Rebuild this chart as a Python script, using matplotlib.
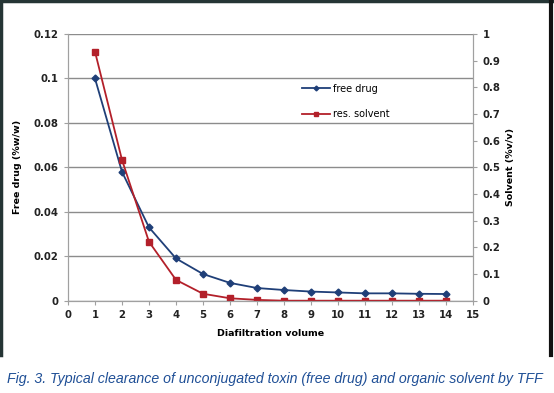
import matplotlib.pyplot as plt
from matplotlib.lines import Line2D

# diafiltration volumes and the two measured series
volume = [1, 2, 3, 4, 5, 6, 7, 8, 9, 10, 11, 12, 13, 14]
free_drug = [0.100, 0.058, 0.033, 0.019, 0.012, 0.008, 0.0057, 0.0048, 0.0041,
             0.0037, 0.0033, 0.0033, 0.0031, 0.0030]
res_solvent = [0.934, 0.528, 0.221, 0.078, 0.026, 0.009, 0.003, 0.0, 0.0,
               0.0, 0.0, 0.0, 0.0, 0.0]

left_ticks = [0, 0.02, 0.04, 0.06, 0.08, 0.1, 0.12]
left_labels = ['0', '0.02', '0.04', '0.06', '0.08', '0.1', '0.12']
right_ticks = [0, 0.1, 0.2, 0.3, 0.4, 0.5, 0.6, 0.7, 0.8, 0.9, 1]
right_labels = ['0', '0.1', '0.2', '0.3', '0.4', '0.5', '0.6', '0.7', '0.8', '0.9', '1']

blue = '#1f3f78'
red = '#b3202a'
grid = '#8c8c8c'
tick_font = dict(fontsize=7.3, fontweight='bold', color='#222222')

fig = plt.figure(figsize=(5.54, 3.93), dpi=100)
ax = fig.add_axes([0.1227, 0.2349, 0.7311, 0.6786])
ax2 = ax.twinx()

ax.plot(volume, free_drug, color=blue, marker='D', markersize=3.5, lw=1.3,
        label='free drug')
ax2.plot(volume, res_solvent, color=red, marker='s', markersize=3.8, lw=1.3,
         label='res. solvent')

ax.set_xlim(0, 15)
ax.set_ylim(0, 0.12)
ax2.set_ylim(0, 1)
ax.set_xticks(range(0, 16))
ax.set_xticklabels([str(i) for i in range(0, 16)], **tick_font)
ax.set_yticks(left_ticks)
ax.set_yticklabels(left_labels, **tick_font)
ax2.set_yticks(right_ticks)
ax2.set_yticklabels(right_labels, **tick_font)

ax.grid(axis='y', color=grid, lw=1.0)
ax.set_axisbelow(True)
for a in (ax, ax2):
    a.spines['top'].set_visible(False)
    for s in ('left', 'right', 'bottom'):
        a.spines[s].set_color('#a0a0a0')
    a.tick_params(length=3, width=0.8, color='#a0a0a0', pad=4)

ax.set_xlabel('Diafiltration volume', fontsize=6.8, fontweight='bold', labelpad=6)
ax.set_ylabel('Free drug (%w/w)', fontsize=6.8, fontweight='bold', labelpad=8)
ax2.set_ylabel('Solvent (%v/v)', fontsize=6.8, fontweight='bold', labelpad=4)

h1, l1 = ax.get_legend_handles_labels()
h2, l2 = ax2.get_legend_handles_labels()
ax2.legend(h1 + h2, l1 + l2, loc='center left', bbox_to_anchor=(0.578, 0.747),
           frameon=False, fontsize=7, handlelength=2.9, handletextpad=0.3,
           labelspacing=1.6, markerscale=0.7, borderpad=0, borderaxespad=0)

# dark frame around the chart panel
frame = '#253535'
fig.add_artist(Line2D([0.002, 0.002], [0.097, 1], color=frame, lw=2.5))
fig.add_artist(Line2D([0.0, 1.0], [0.997, 0.997], color=frame, lw=2.5))
fig.add_artist(Line2D([0.995, 0.995], [0.097, 1], color='#111111', lw=3))

fig.text(0.012, 0.025, 'Fig. 3. Typical clearance of unconjugated toxin (free drug) '
         'and organic solvent by TFF', fontsize=10.2, style='italic',
         color='#1f4f96', family='Liberation Sans')

fig.savefig('out.png', dpi=100)
